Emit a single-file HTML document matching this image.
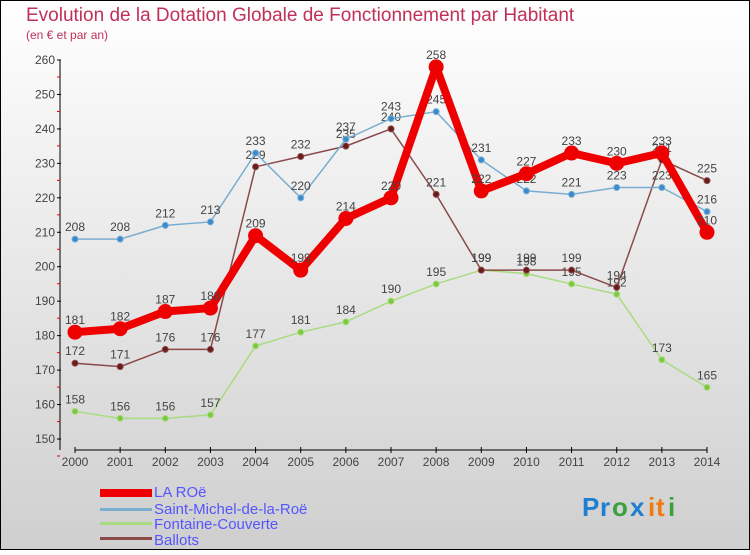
<!DOCTYPE html>
<html><head><meta charset="utf-8"><style>
body{margin:0}
svg text{font-family:"Liberation Sans",sans-serif}
</style></head><body>
<svg id="c" width="750" height="550" xmlns="http://www.w3.org/2000/svg">
<defs><linearGradient id="bg" x1="0" y1="0" x2="0" y2="1"><stop offset="0" stop-color="#ffffff"/><stop offset="1" stop-color="#cfcfcf"/></linearGradient></defs>
<rect x="0.5" y="0.5" width="749" height="549" fill="url(#bg)" stroke="#000"/>
<text x="26" y="21" font-size="19" fill="#c0305a">Evolution de la Dotation Globale de Fonctionnement par Habitant</text>
<text x="26" y="39" font-size="12" fill="#c0305a">(en € et par an)</text>
<g id="axes"></g><g id="series"></g>
<g>
<rect x="100" y="489" width="52" height="8" fill="#e00"/>
<text x="154" y="497" font-size="15" fill="#5555ff">LA ROë</text>
<rect x="100" y="508" width="52" height="3" fill="#7aaed0"/>
<text x="154" y="514" font-size="15" fill="#5555ff">Saint-Michel-de-la-Roë</text>
<rect x="100" y="522" width="52" height="3" fill="#a8dc80"/>
<text x="154" y="529" font-size="15" fill="#5555ff">Fontaine-Couverte</text>
<rect x="100" y="537" width="52" height="3" fill="#8a4a4a"/>
<text x="154" y="545" font-size="15" fill="#5555ff">Ballots</text>
</g>
<g font-size="26" font-weight="bold">
<text x="582" y="516" fill="#1e7fd0">P</text><text x="600" y="516" fill="#1e7fd0">r</text><text x="612" y="516" fill="#3aa040">o</text><text x="630" y="516" fill="#1e7fd0">x</text><text x="648" y="516" fill="#f07a10">i</text><text x="656" y="516" fill="#f07a10">t</text><text x="668" y="516" fill="#3aa040">i</text>
</g>
</svg>
<script>
const years=[2000,2001,2002,2003,2004,2005,2006,2007,2008,2009,2010,2011,2012,2013,2014];
const yTicks=[150,160,170,180,190,200,210,220,230,240,250,260];
const laRoe=[181,182,187,188,209,199,214,220,258,222,227,233,230,233,210];
const saintMichel=[208,208,212,213,233,220,237,243,245,231,222,221,223,223,216];
const fontaine=[158,156,156,157,177,181,184,190,195,199,198,195,192,173,165];
const ballots=[172,171,176,176,229,232,235,240,221,199,199,199,194,231,225];
const NS="http://www.w3.org/2000/svg";
const X=i=>75+(707-75)*(i)/(years.length-1);
const Y=v=>439-(v-150)*(439-60)/110;
function mk(t,a,p){const e=document.createElementNS(NS,t);for(const k in a)e.setAttribute(k,a[k]);p.appendChild(e);return e;}
const ax=document.getElementById('axes');
let l=mk('line',{x1:60,y1:60,x2:60,y2:450,stroke:'#000'},ax);


l=mk('line',{x1:75,y1:450,x2:707,y2:450,stroke:'#000'},ax);


yTicks.forEach(v=>{
 const t=mk('text',{x:55,y:Y(v)+4,'font-size':12,fill:'#444','text-anchor':'end'},ax);t.textContent=v;
 
 
 mk('line',{x1:57,y1:Y(v),x2:61,y2:Y(v),stroke:'#000'},ax);
 mk('line',{x1:57,y1:Y(v)+17,x2:60,y2:Y(v)+17,stroke:'#e00'},ax);
});
years.forEach((y,i)=>{
 mk('line',{x1:X(i),y1:447,x2:X(i),y2:453,stroke:'#000'},ax);
 const t=mk('text',{x:X(i),y:466,'font-size':12,fill:'#444','text-anchor':'middle'},ax);t.textContent=y;
 
 
});
const sg=document.getElementById('series');
function series(d,color,w,r,dot,name){
 const g=mk('g',{},sg);
 
 
 mk('polyline',{points:d.map((v,i)=>X(i)+','+Y(v)).join(' '),fill:'none',stroke:color,'stroke-width':w,'stroke-linejoin':'round'},g);
 d.forEach((v,i)=>{
  const c=mk('circle',{cx:X(i),cy:Y(v),r:r,fill:dot,stroke:color,'stroke-width':1},g);
  
  
  const t=mk('text',{x:X(i),y:Y(v)-8,'font-size':12,fill:'#444','text-anchor':'middle'},g);t.textContent=v;
  
  
 });
}
series(fontaine,'#a8dc80',1.5,3,'#7cc840','fontaine');
series(ballots,'#8a4a4a',1.5,3,'#6a1a1a','ballots');
series(saintMichel,'#7aaed0',1.5,3,'#3a8ad0','saint-michel');
series(laRoe,'#ee0000',8,7,'#ee0000','la-roe');
</script>
</body></html>
